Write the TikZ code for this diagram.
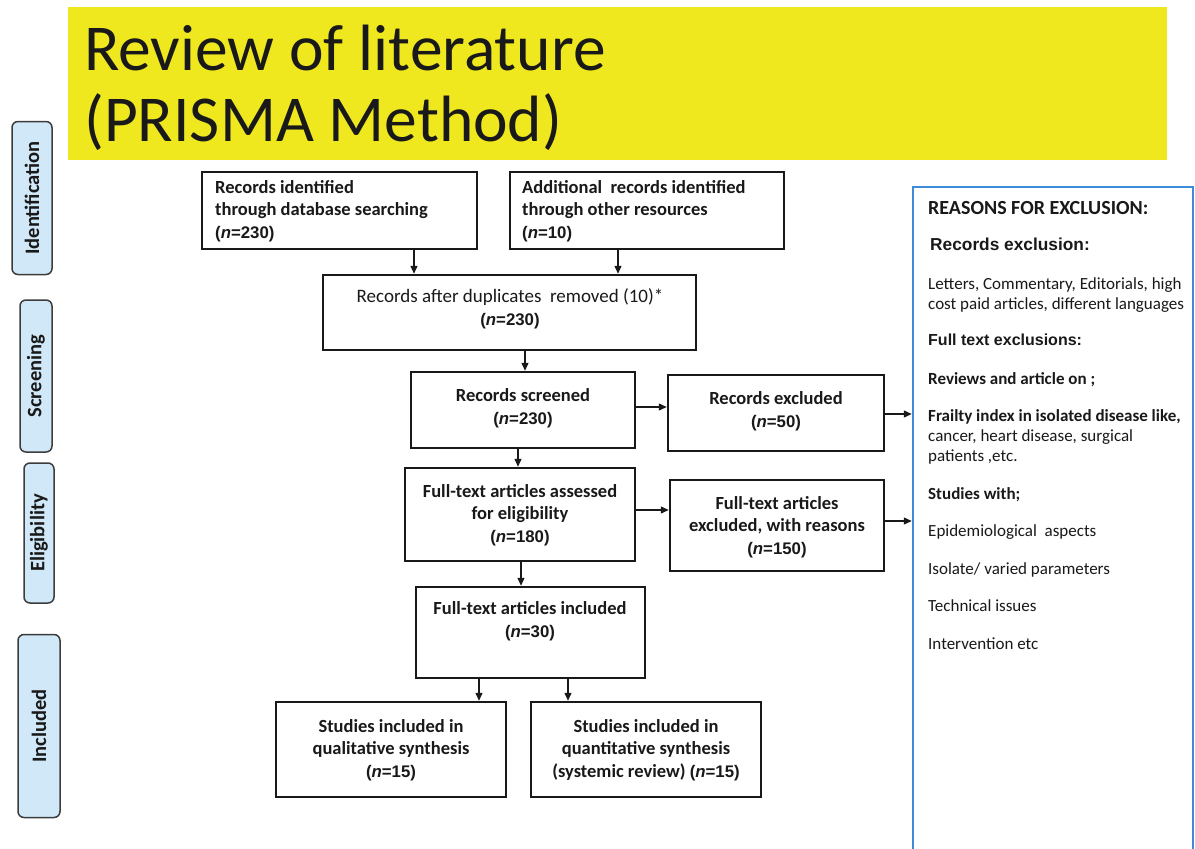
\documentclass[tikz,border=0pt]{standalone}
\usepackage{fontspec}
\setmainfont{Carlito}
\newfontfamily\arial{Liberation Sans}
\usetikzlibrary{arrows.meta,calc}
\definecolor{ttl}{RGB}{240,232,30}
\definecolor{sidefill}{RGB}{208,232,247}
\definecolor{sidedraw}{RGB}{60,60,60}
\definecolor{rblue}{RGB}{60,140,215}
\definecolor{ink}{RGB}{25,25,25}
\newcommand{\nn}[1]{{\arial\bfseries\fontsize{16.8}{18}\selectfont(\textit{n}=#1)}}
\begin{document}
\begin{tikzpicture}[x=1pt,y=-1pt,
  flowbox/.style={draw=ink,line width=2.5pt,inner sep=0pt},
  btxt/.style={text=ink,font=\bfseries\fontsize{18.5}{22.5}\selectfont,align=center,inner sep=0pt},
  arr/.style={draw=ink,line width=1.4pt,-{Triangle[length=8pt,width=7pt]}},
  side/.style={draw=sidedraw,fill=sidefill,line width=1.5pt,rounded corners=6pt,rotate=90,
    text=ink,font=\bfseries\fontsize{20.5}{24}\selectfont,inner sep=0pt},
  rt/.style={anchor=base west,text=ink,inner sep=0pt,font=\fontsize{17}{20}\selectfont},
  rb/.style={rt,font=\bfseries\fontsize{17}{20}\selectfont}]
\useasboundingbox (0,0) rectangle (1195,849);
\fill[white] (0,0) rectangle (1195,849);
% title
\node[fill=ttl,minimum width=1099,minimum height=153,inner sep=0pt] (title) at (617.5,83.5) {};
\node[anchor=base west,inner sep=0pt,text=ink,font=\fontsize{65.5}{72}\selectfont] (t1) at (84,70) {Review of literature};
\node[anchor=base west,inner sep=0pt,text=ink,font=\fontsize{65.5}{72}\selectfont] (t2) at (84,141) {(PRISMA Method)};
% side labels
\node[side,minimum width=153,minimum height=40] (s1) at (32,198) {Identification};
\node[side,minimum width=152,minimum height=32] (s2) at (36,376) {Screening};
\node[side,minimum width=140,minimum height=30] (s3) at (39,533) {Eligibility};
\node[side,minimum width=183,minimum height=42] (s4) at (39,726) {Included};
% flow boxes
\node[flowbox,minimum width=275,minimum height=77] (A) at (339.5,210.5) {};
\node[btxt,anchor=west,align=left] (At) at (215,211) {Records identified\\through database searching\\\nn{230}};
\node[flowbox,minimum width=274,minimum height=77] (B) at (647,210.5) {};
\node[btxt,anchor=west,align=left] (Bt) at (522,211) {Additional\ \ records identified\\through other resources\\\nn{10}};
\node[flowbox,minimum width=373,minimum height=75] (C) at (509.5,312.5) {};
\node[btxt,font=\fontsize{19}{23}\selectfont] (Ct) at (510,309) {Records after duplicates\ \ removed (10)*\\\nn{230}};
\node[flowbox,minimum width=224,minimum height=76] (D) at (523,410) {};
\node[btxt] (Dt) at (523,408) {Records screened\\\nn{230}};
\node[flowbox,minimum width=216,minimum height=76] (E) at (776,413) {};
\node[btxt] (Et) at (776,411) {Records excluded\\\nn{50}};
\node[flowbox,minimum width=230,minimum height=93] (F) at (520,514.5) {};
\node[btxt] (Ft) at (520,515) {Full-text articles assessed\\for eligibility\\\nn{180}};
\node[flowbox,minimum width=214,minimum height=91] (G) at (777,525.5) {};
\node[btxt] (Gt) at (777,527) {Full-text articles\\excluded, with reasons\\\nn{150}};
\node[flowbox,minimum width=229,minimum height=91] (H) at (530.5,632.5) {};
\node[btxt] (Ht) at (530,621) {Full-text articles included\\\nn{30}};
\node[flowbox,minimum width=230,minimum height=95] (I) at (391,749.5) {};
\node[btxt] (It) at (391,750) {Studies included in\\qualitative synthesis\\\nn{15}};
\node[flowbox,minimum width=230,minimum height=95] (J) at (646,749.5) {};
\node[btxt] (Jt) at (646,750) {Studies included in\\quantitative synthesis\\(systemic review) \nn{15}};
% reasons box
\node[draw=rblue,line width=2.5pt,minimum width=280,minimum height=700,inner sep=0pt] (R) at (1053,537) {};
\node[rb,font=\bfseries\fontsize{20}{20}\selectfont] (r1) at (928,214) {REASONS FOR EXCLUSION:};
\node[rt,font=\arial\bfseries\fontsize{17.3}{20}\selectfont] (r2) at (930,250) {Records exclusion:};
\node[rt] (r3) at (928,289) {Letters, Commentary, Editorials, high};
\node[rt] (r4) at (928,309) {cost paid articles, different languages};
\node[rt,font=\arial\bfseries\fontsize{16}{20}\selectfont] (r5) at (928,345) {Full text exclusions:};
\node[rb] (r6) at (928,384) {Reviews and article on ;};
\node[rb] (r7) at (928,421) {Frailty index in isolated disease like,};
\node[rt] (r8) at (928,441) {cancer, heart disease, surgical};
\node[rt] (r9) at (928,461) {patients ,etc.};
\node[rb] (r10) at (928,499) {Studies with;};
\node[rt] (r11) at (928,536) {Epidemiological\ \ aspects};
\node[rt] (r12) at (928,574) {Isolate/ varied parameters};
\node[rt] (r13) at (928,611) {Technical issues};
\node[rt] (r14) at (928,649) {Intervention etc};
% connectors
\draw[arr] ([xshift=74.5]A.south) -- ([xshift=74.5]A.south |- C.north);
\draw[arr] ([xshift=-29]B.south) -- ([xshift=-29]B.south |- C.north);
\draw[arr] ([xshift=15.5]C.south) -- ([xshift=15.5]C.south |- D.north);
\draw[arr] ([yshift=3]D.east) -- ([yshift=3]D.east -| E.west);
\draw[arr] ([xshift=-5]D.south) -- ([xshift=-5]D.south |- F.north);
\draw[arr] ([yshift=4.5]F.east) -- ([yshift=4.5]F.east -| G.west);
\draw[arr] ([xshift=1]F.south) -- ([xshift=1]F.south |- H.north);
\draw[arr] ([xshift=-51.5]H.south) -- ([xshift=-51.5]H.south |- I.north);
\draw[arr] ([xshift=37.5]H.south) -- ([xshift=37.5]H.south |- J.north);
\draw[arr] ([yshift=-1]E.east) -- ([yshift=-1]E.east -| R.west);
\draw[arr] ([yshift=4.5]G.east) -- ([yshift=4.5]G.east -| R.west);
\end{tikzpicture}
\end{document}
